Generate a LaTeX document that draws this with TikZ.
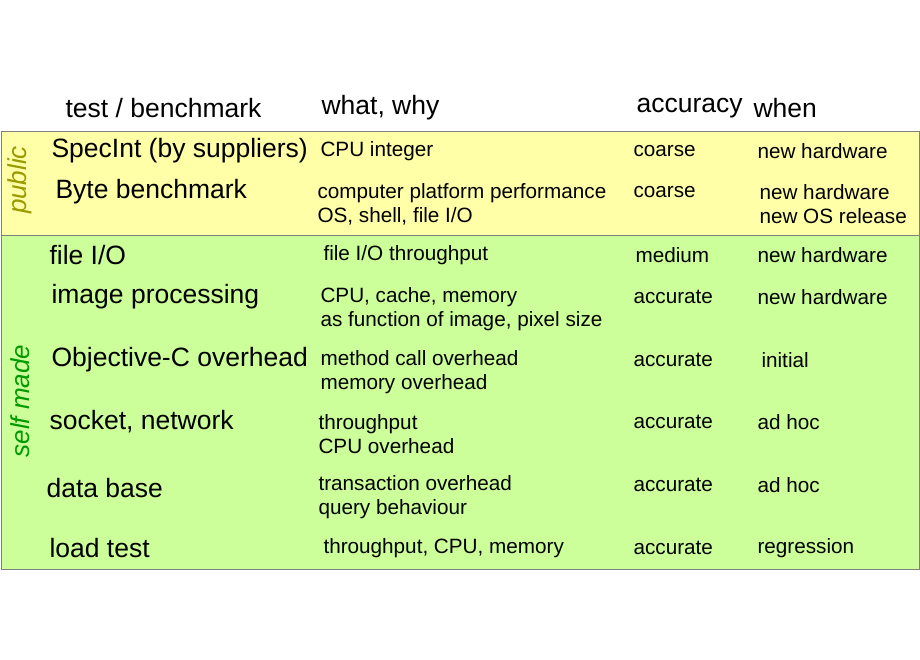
\documentclass[tikz,border=0pt]{standalone}
\usepackage{fontspec}
\setmainfont{Liberation Sans}
\definecolor{pubyellow}{HTML}{FFFFA8}
\definecolor{selfgreen}{HTML}{CCFF99}
\definecolor{pubolive}{HTML}{999900}
\definecolor{selfdark}{HTML}{009900}
\begin{document}
\begin{tikzpicture}[x=1pt,y=-1pt,
	head/.style={anchor=west,font=\fontsize{26.5}{30}\selectfont},
	big/.style={anchor=west,font=\fontsize{26.5}{30}\selectfont},
	small/.style={anchor=west,font=\fontsize{20.7}{24}\selectfont,align=left}]
			\useasboundingbox[fill=white] (0,0) rectangle (920,660);
			% bands
			\draw[fill=pubyellow, draw=gray] (1,131) rectangle (919,235);
			\draw[fill=selfgreen, draw=gray] (1,235) rectangle (919,569);
			\node[rotate=90, text=pubolive, font=\fontsize{26}{28}\selectfont\itshape] (pub) at (20,180) {public};
			\node[rotate=90, text=selfdark, font=\fontsize{26}{28}\selectfont\itshape] (self) at (20,401) {self made};
			% header
			\node[head] (htest) at (62,108) {test / benchmark};
			\node[head] (hwhat) at (318,108) {what, why};
			\node[head] (hacc) at (633,108) {accuracy};
			\node[head] (hwhen) at (750,108) {when};
			% SpecInt
			\node[big] (t1) at (48,151) {SpecInt (by suppliers)};
			\node[small] (w1) at (317,151) {CPU integer};
			\node[small] (a1) at (630,151) {coarse};
			\node[small] (n1) at (754,151) {new hardware};
			% Byte
			\node[big] (t2) at (52,192) {Byte benchmark};
			\node[small] (w2) at (314,204) {computer platform performance\\OS, shell, file I/O};
			\node[small] (a2) at (630,192) {coarse};
			\node[small] (n2) at (756,204) {new hardware\\new OS release};
			% file I/O
			\node[big] (t3) at (46,255) {file I/O};
			\node[small] (w3) at (320,255) {file I/O throughput};
			\node[small] (a3) at (632,255) {medium};
			\node[small] (n3) at (754,255) {new hardware};
			% image processing
			\node[big] (t4) at (48,297) {image processing};
			\node[small] (w4) at (317,309) {CPU, cache, memory\\as function of image, pixel size};
			\node[small] (a4) at (630,297) {accurate};
			\node[small] (n4) at (754,297) {new hardware};
			% Objective-C
			\node[big] (t5) at (48,360) {Objective-C overhead};
			\node[small] (w5) at (317,372) {method call overhead\\memory overhead};
			\node[small] (a5) at (630,360) {accurate};
			\node[small] (n5) at (758,360) {initial};
			% socket
			\node[big] (t6) at (46,422) {socket, network};
			\node[small] (w6) at (315,434) {throughput\\CPU overhead};
			\node[small] (a6) at (630,422) {accurate};
			\node[small] (n6) at (754,422) {ad hoc};
			% data base
			\node[big] (t7) at (43,488) {data base};
			\node[small] (w7) at (315,497) {transaction overhead\\query behaviour};
			\node[small] (a7) at (630,485) {accurate};
			\node[small] (n7) at (754,485) {ad hoc};
			% load test
			\node[big] (t8) at (46,548) {load test};
			\node[small] (w8) at (320,548) {throughput, CPU, memory};
			\node[small] (a8) at (630,548) {accurate};
			\node[small] (n8) at (754,548) {regression};
\end{tikzpicture}
\end{document}
